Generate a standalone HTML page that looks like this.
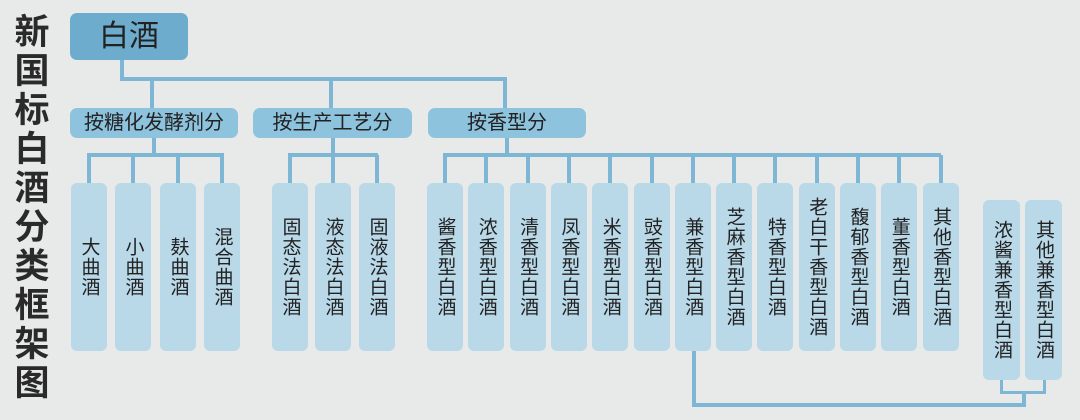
<!DOCTYPE html>
<html><head><meta charset="utf-8"><style>
html,body{margin:0;width:1080px;height:420px;}
body{background:#e8e9e9;position:relative;overflow:hidden;font-family:"Liberation Sans","Noto Sans CJK SC",sans-serif;}
.l{position:absolute;background:#7eb6d6;}
.t{position:absolute;left:10px;top:13px;width:44px;font-size:35px;font-weight:bold;line-height:39px;color:#2a2a2a;text-align:center;}
.r{position:absolute;background:#8ec3dd;border-radius:7px;color:#222;text-align:center;font-size:20px;}
.v{position:absolute;background:#b9d8e8;border-radius:6px;color:#222;display:flex;align-items:center;justify-content:center;}
.v span{writing-mode:vertical-rl;font-size:19px;line-height:19px;letter-spacing:1px;}
</style></head><body>
<div class="t">新<br>国<br>标<br>白<br>酒<br>分<br>类<br>框<br>架<br>图</div>

<div class="r" style="left:70px;top:13px;width:118px;height:47px;background:#6daccd;font-size:30px;line-height:47px;">白酒</div>
<div class="l" style="left:120px;top:60px;width:4px;height:20px"></div>
<div class="l" style="left:120px;top:77px;width:387px;height:4px"></div>
<div class="l" style="left:150px;top:77px;width:4px;height:32px"></div>
<div class="l" style="left:329px;top:77px;width:4px;height:32px"></div>
<div class="l" style="left:503px;top:77px;width:4px;height:32px"></div>

<div class="r" style="left:70px;top:108px;width:168px;height:30px;line-height:30px;">按糖化发酵剂分</div>
<div class="r" style="left:253px;top:108px;width:159px;height:30px;line-height:30px;">按生产工艺分</div>
<div class="r" style="left:428px;top:108px;width:158px;height:30px;line-height:30px;">按香型分</div>

<div class="l" style="left:152px;top:138px;width:4px;height:18px"></div>
<div class="l" style="left:87px;top:153px;width:137px;height:4px"></div>
<div class="l" style="left:331px;top:138px;width:4px;height:18px"></div>
<div class="l" style="left:288px;top:153px;width:90px;height:4px"></div>
<div class="l" style="left:505px;top:138px;width:4px;height:18px"></div>
<div class="l" style="left:443px;top:153px;width:498px;height:4px"></div>

<div id="boxes"></div>
<script>
var bx=[[71,"大曲酒"],[115,"小曲酒"],[160,"麸曲酒"],[204,"混合曲酒"],[272,"固态法白酒"],[315,"液态法白酒"],[359,"固液法白酒"]];
var g3=["酱香型白酒","浓香型白酒","清香型白酒","凤香型白酒","米香型白酒","豉香型白酒","兼香型白酒","芝麻香型白酒","特香型白酒","老白干香型白酒","馥郁香型白酒","董香型白酒","其他香型白酒"];
for(var i=0;i<13;i++)bx.push([427+i*41.3,g3[i]]);
var h="";
bx.forEach(function(b){
h+='<div class="l" style="left:'+(b[0]+16)+'px;top:155px;width:4px;height:28px"></div>';
h+='<div class="v" style="left:'+b[0]+'px;top:183px;width:36px;height:168px"><span>'+b[1]+'</span></div>';
});
document.getElementById("boxes").innerHTML=h;
</script>

<div class="v" style="left:983px;top:200px;width:37px;height:180px"><span>浓酱兼香型白酒</span></div>
<div class="v" style="left:1025px;top:200px;width:37px;height:180px"><span>其他兼香型白酒</span></div>
<div class="l" style="left:692px;top:351px;width:4px;height:56px"></div>
<div class="l" style="left:692px;top:403px;width:334px;height:4px"></div>
<div class="l" style="left:1022px;top:391px;width:4px;height:14px"></div>
<div class="l" style="left:1000px;top:391px;width:46px;height:3px"></div>
<div class="l" style="left:1000px;top:380px;width:3px;height:13px"></div>
<div class="l" style="left:1043px;top:380px;width:3px;height:13px"></div>
</body></html>
